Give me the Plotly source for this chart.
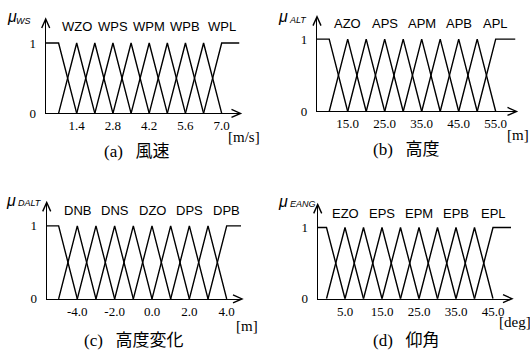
import plotly.graph_objects as go

W, H = 530, 360

# ---------------- data ----------------
ws_centers = [0.7, 1.4, 2.1, 2.8, 3.5, 4.2, 4.9, 5.6, 6.3, 7.0]
ws_ticks = [1.4, 2.8, 4.2, 5.6, 7.0]
ws_ticktext = ["1.4", "2.8", "4.2", "5.6", "7.0"]
ws_labels = ["WZO", "WPS", "WPM", "WPB", "WPL"]

alt_centers = [10, 15, 20, 25, 30, 35, 40, 45, 50, 55]
alt_ticks = [15, 25, 35, 45, 55]
alt_ticktext = ["15.0", "25.0", "35.0", "45.0", "55.0"]
alt_labels = ["AZO", "APS", "APM", "APB", "APL"]

dalt_centers = [-5, -4, -3, -2, -1, 0, 1, 2, 3, 4]
dalt_ticks = [-4, -2, 0, 2, 4]
dalt_ticktext = ["-4.0", "-2.0", "0.0", "2.0", "4.0"]
dalt_labels = ["DNB", "DNS", "DZO", "DPS", "DPB"]

eang_centers = [0, 5, 10, 15, 20, 25, 30, 35, 40, 45]
eang_ticks = [5, 15, 25, 35, 45]
eang_ticktext = ["5.0", "15.0", "25.0", "35.0", "45.0"]
eang_labels = ["EZO", "EPS", "EPM", "EPB", "EPL"]

y_ticks = [0, 1]
y_ticktext = ["0", "1"]

# ---------------- layout calibration (pixels) ----------------
panels = [
    dict(centers=ws_centers, ticks=ws_ticks, ticktext=ws_ticktext, labels=ws_labels,
         sym="WS", unit="[m/s]", caption="(a)\u00a0\u00a0\u00a0風速",
         cal=(1.4, 76.7, 7.0, 221.7), y0px=116.0, y1px=44.0, xl=45.7, xr=239.5, yt=20.5,
         lab_y=26.7, mu=(11.7, 17.0), sub=(23.5, 21.0), unit_xy=(244, 140), cap_xy=(137, 155)),
    dict(centers=alt_centers, ticks=alt_ticks, ticktext=alt_ticktext, labels=alt_labels,
         sym="ALT", unit="[m]", caption="(b)\u00a0\u00a0\u00a0高度",
         cal=(15, 347.7, 55, 495.7), y0px=114.0, y1px=40.0, xl=317.0, xr=515.5, yt=18.0,
         lab_y=24.0, mu=(283.0, 17.0), sub=(298.0, 20.0), unit_xy=(518, 138), cap_xy=(406, 153)),
    dict(centers=dalt_centers, ticks=dalt_ticks, ticktext=dalt_ticktext, labels=dalt_labels,
         sym="DALT", unit="[m]", caption="(c)\u00a0\u00a0\u00a0高度変化",
         cal=(-4, 77.3, 4, 226.7), y0px=305.7, y1px=231.0, xl=46.7, xr=241.0, yt=208.0,
         lab_y=215.0, mu=(11.3, 205.5), sub=(30.0, 208.0), unit_xy=(247, 333), cap_xy=(134, 348)),
    dict(centers=eang_centers, ticks=eang_ticks, ticktext=eang_ticktext, labels=eang_labels,
         sym="EANG", unit="[deg]", caption="(d)\u00a0\u00a0\u00a0仰角",
         cal=(5, 345.0, 45, 493.0), y0px=305.5, y1px=232.7, xl=317.7, xr=511.0, yt=210.0,
         lab_y=218.0, mu=(283.0, 206.0), sub=(302.5, 209.0), unit_xy=(515, 329), cap_xy=(406, 348)),
]

SERIF = "Liberation Serif, Times New Roman, serif"
SANS = "Liberation Sans, Arial, sans-serif"
CAP = "Liberation Serif, Noto Sans CJK JP, serif"
LW = 1.4

fig = go.Figure()
annotations = []
shapes = []
layout = {}

for i, p in enumerate(panels):
    n = "" if i == 0 else str(i + 1)
    xa, ya = "x" + n, "y" + n
    v1, p1, v2, p2 = p["cal"]
    sx = (p2 - p1) / (v2 - v1)
    xlo = v1 + (p["xl"] - p1) / sx
    xhi = v1 + (p["xr"] - p1) / sx
    sy = p["y0px"] - p["y1px"]
    yhi = (p["y0px"] - p["yt"]) / sy

    layout["xaxis" + n] = dict(
        domain=[p["xl"] / W, p["xr"] / W], range=[xlo, xhi], anchor=ya,
        showgrid=False, zeroline=False, showline=True, linecolor="black", linewidth=LW,
        ticks="", tickvals=p["ticks"], ticktext=p["ticktext"],
        tickfont=dict(family=SERIF, size=13, color="black"), ticklabelstandoff=0,
    )
    layout["yaxis" + n] = dict(
        domain=[1 - p["y0px"] / H, 1 - p["yt"] / H], range=[0, yhi], anchor=xa,
        showgrid=False, zeroline=False, showline=True, linecolor="black", linewidth=LW,
        ticks="", tickvals=y_ticks, ticktext=y_ticktext,
        tickfont=dict(family=SERIF, size=13, color="black"), ticklabelstandoff=6,
    )

    c = p["centers"]
    line = dict(color="black", width=LW)
    # left shoulder
    fig.add_trace(go.Scatter(x=[xlo, c[0], c[1]], y=[1, 1, 0], mode="lines", line=line,
                             xaxis=xa, yaxis=ya, showlegend=False, hoverinfo="skip"))
    # triangles
    for k in range(1, len(c) - 1):
        fig.add_trace(go.Scatter(x=[c[k - 1], c[k], c[k + 1]], y=[0, 1, 0], mode="lines",
                                 line=line, xaxis=xa, yaxis=ya, showlegend=False,
                                 hoverinfo="skip"))
    # right shoulder
    fig.add_trace(go.Scatter(x=[c[-2], c[-1], xhi], y=[0, 1, 1], mode="lines", line=line,
                             xaxis=xa, yaxis=ya, showlegend=False, hoverinfo="skip"))

    # arrowheads (paper-anchored so they are not clipped); pixel y is upward
    shapes.append(dict(type="path", xref="paper", yref="paper", xsizemode="pixel",
                       ysizemode="pixel", xanchor=(p["xr"] + 1) / W, yanchor=1 - p["y0px"] / H,
                       path="M-9,-4L0,0L-9,4", line=dict(color="black", width=LW)))
    shapes.append(dict(type="path", xref="paper", yref="paper", xsizemode="pixel",
                       ysizemode="pixel", xanchor=p["xl"] / W, yanchor=1 - (p["yt"] - 1) / H,
                       path="M-4,-9L0,0L4,-9", line=dict(color="black", width=LW)))

    # MF labels
    for t, lab in zip(p["ticks"], p["labels"]):
        annotations.append(dict(x=t, y=1 - p["lab_y"] / H, xref=xa, yref="paper", text=lab,
                                showarrow=False, xanchor="center", yanchor="middle",
                                font=dict(family=SANS, size=13, color="black")))
    # mu symbol
    annotations.append(dict(x=p["mu"][0] / W, y=1 - p["mu"][1] / H, xref="paper", yref="paper",
                            text="<i>μ</i>", showarrow=False, xanchor="center", yanchor="middle",
                            font=dict(family=SANS, size=16, color="black")))
    annotations.append(dict(x=p["sub"][0] / W, y=1 - p["sub"][1] / H, xref="paper", yref="paper",
                            text="<i>" + p["sym"] + "</i>", showarrow=False, xanchor="center",
                            yanchor="middle", font=dict(family=SANS, size=9, color="black")))
    # unit
    annotations.append(dict(x=p["unit_xy"][0] / W, y=1 - p["unit_xy"][1] / H, xref="paper",
                            yref="paper", text=p["unit"], showarrow=False, xanchor="center",
                            yanchor="middle", font=dict(family=SERIF, size=15, color="black")))
    # caption
    annotations.append(dict(x=p["cap_xy"][0] / W, y=1 - p["cap_xy"][1] / H, xref="paper",
                            yref="paper", text=p["caption"], showarrow=False, xanchor="center",
                            yanchor="middle", font=dict(family=CAP, size=17, color="black")))

fig.update_layout(
    width=W, height=H, margin=dict(l=0, r=0, t=0, b=0),
    paper_bgcolor="white", plot_bgcolor="white",
    annotations=annotations, shapes=shapes, **layout,
)

fig.write_html("out.html")
